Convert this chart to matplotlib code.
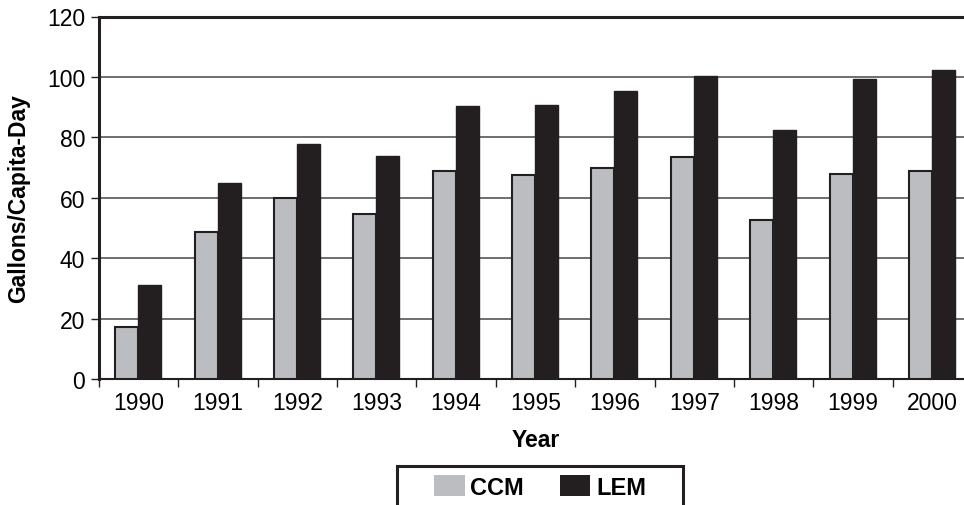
import numpy as np
import matplotlib.pyplot as plt
from matplotlib.patches import Rectangle

years = ['1990', '1991', '1992', '1993', '1994', '1995',
         '1996', '1997', '1998', '1999', '2000']
ccm = [17.3, 48.7, 60.0, 54.6, 68.8, 67.5, 70.0, 73.4, 52.8, 68.0, 68.9]
lem = [31.2, 64.8, 77.9, 73.8, 90.3, 90.7, 95.4, 100.2, 82.5, 99.4, 102.4]

plt.rcParams['font.family'] = ['Liberation Sans', 'DejaVu Sans']

W, H = 964, 506
fig = plt.figure(figsize=(W / 100, H / 100), dpi=100)
ax = fig.add_axes([99 / W, 1 - 380 / H, 873 / W, 362.5 / H])

x = np.arange(len(years))
ax.bar(x - 0.15, ccm, width=0.29, color='#bcbdc0', edgecolor='#231f20',
       linewidth=1.5, label='CCM', zorder=3)
ax.bar(x + 0.14, lem, width=0.29, color='#231f20', edgecolor='#231f20',
       linewidth=1.0, label='LEM', zorder=3)

ax.set_xlim(-0.5, len(years) - 0.5)
ax.set_ylim(0, 120)
ax.set_yticks(range(0, 121, 20))
ax.yaxis.grid(True, color='#555555', linewidth=1.2, zorder=0)

ax.set_xticks(x)
ax.set_xticklabels(years, fontsize=16.5)
ax.tick_params(axis='x', length=0, pad=9)
ax.set_xticks(np.arange(-0.5, len(years), 1), minor=True)
ax.tick_params(axis='x', which='minor', length=6, width=1, color='#231f20')
ax.tick_params(axis='y', length=6, width=1, labelsize=16.5, pad=4, color='#231f20')

for side in ['left', 'top']:
    ax.spines[side].set_linewidth(2.2)
    ax.spines[side].set_color('#231f20')
ax.spines['bottom'].set_linewidth(1.5)
ax.spines['bottom'].set_color('#231f20')
ax.spines['right'].set_visible(False)

ax.set_xlabel('Year', fontsize=16.5, fontweight='bold', labelpad=10)
ax.set_ylabel('Gallons/Capita-Day', fontsize=16.5, fontweight='bold', labelpad=12)

# legend box runs off the bottom of the picture
fig.patches.append(Rectangle((397 / W, -0.05), (683 - 397) / W, 0.05 + 1 - 467 / H,
                             transform=fig.transFigure, fill=False,
                             edgecolor='#231f20', linewidth=2.2))
leg = fig.legend(loc='center', bbox_to_anchor=(540 / W, 1 - 488 / H),
                 ncol=2, prop={'weight': 'bold', 'size': 17},
                 frameon=False, handlelength=1.3, handleheight=0.95,
                 handletextpad=0.25, columnspacing=1.5, borderaxespad=0)
for h in leg.legend_handles:
    h.set_linewidth(0)

fig.savefig('out.png', dpi=100)
